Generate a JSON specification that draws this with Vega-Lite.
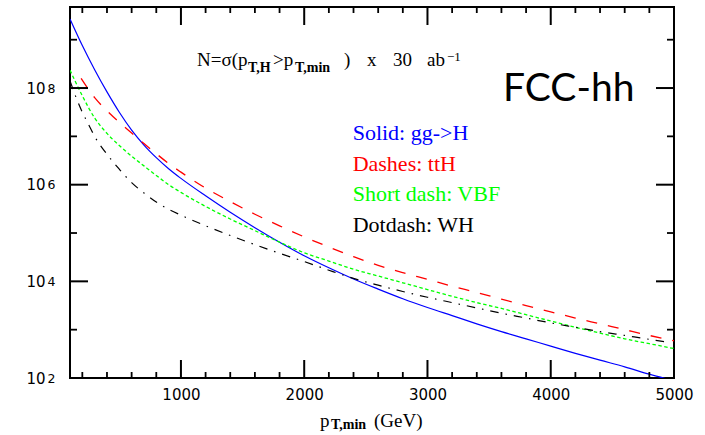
{
  "$schema": "https://vega.github.io/schema/vega-lite/v6.json",
  "width": 604,
  "height": 371,
  "autosize": {"type": "none"},
  "padding": {"left": 70, "top": 7, "right": 31, "bottom": 57},
  "background": "white",
  "config": {
    "view": {"stroke": "black", "strokeWidth": 2},
    "axis": {"grid": false, "domain": false, "ticks": false, "labelColor": "black"}
  },
  "datasets": {
    "gg": [
      {"pt": 100, "n": 2.69e9}, {"pt": 200, "n": 7.59e8}, {"pt": 300, "n": 2.40e8}, {"pt": 400, "n": 8.32e7},
      {"pt": 500, "n": 3.16e7}, {"pt": 600, "n": 1.35e7}, {"pt": 700, "n": 6.61e6}, {"pt": 800, "n": 3.63e6},
      {"pt": 900, "n": 2.14e6}, {"pt": 1000, "n": 1.35e6}, {"pt": 1200, "n": 5.89e5}, {"pt": 1400, "n": 2.69e5},
      {"pt": 1600, "n": 1.29e5}, {"pt": 1800, "n": 6.46e4}, {"pt": 2000, "n": 3.39e4}, {"pt": 2200, "n": 1.91e4},
      {"pt": 2400, "n": 1.12e4}, {"pt": 2600, "n": 6.92e3}, {"pt": 2800, "n": 4.37e3}, {"pt": 3000, "n": 2.88e3},
      {"pt": 3200, "n": 1.95e3}, {"pt": 3400, "n": 1.32e3}, {"pt": 3600, "n": 912}, {"pt": 3800, "n": 646},
      {"pt": 4000, "n": 457}, {"pt": 4200, "n": 324}, {"pt": 4400, "n": 234}, {"pt": 4600, "n": 170},
      {"pt": 4800, "n": 120}, {"pt": 5000, "n": 87}
    ],
    "tth": [
      {"pt": 190, "n": 1.585e8}, {"pt": 300, "n": 6.31e7}, {"pt": 400, "n": 3.39e7}, {"pt": 500, "n": 1.95e7},
      {"pt": 600, "n": 1.175e7}, {"pt": 700, "n": 7.08e6}, {"pt": 800, "n": 4.37e6}, {"pt": 900, "n": 2.75e6},
      {"pt": 1000, "n": 1.82e6}, {"pt": 1200, "n": 8.51e5}, {"pt": 1400, "n": 4.47e5}, {"pt": 1600, "n": 2.45e5},
      {"pt": 1800, "n": 1.41e5}, {"pt": 2000, "n": 8.32e4}, {"pt": 2200, "n": 5.13e4}, {"pt": 2400, "n": 3.24e4},
      {"pt": 2600, "n": 2.14e4}, {"pt": 2800, "n": 1.51e4}, {"pt": 3000, "n": 1.10e4}, {"pt": 3200, "n": 7.94e3},
      {"pt": 3400, "n": 5.89e3}, {"pt": 3600, "n": 4.27e3}, {"pt": 3800, "n": 3.16e3}, {"pt": 4000, "n": 2.34e3},
      {"pt": 4200, "n": 1.74e3}, {"pt": 4400, "n": 1.32e3}, {"pt": 4600, "n": 1.00e3}, {"pt": 4800, "n": 759},
      {"pt": 5000, "n": 589}
    ],
    "vbf": [
      {"pt": 100, "n": 2.34e8}, {"pt": 200, "n": 6.92e7}, {"pt": 300, "n": 2.40e7}, {"pt": 400, "n": 1.15e7},
      {"pt": 500, "n": 6.46e6}, {"pt": 600, "n": 3.89e6}, {"pt": 700, "n": 2.45e6}, {"pt": 800, "n": 1.55e6},
      {"pt": 900, "n": 1.00e6}, {"pt": 1000, "n": 6.92e5}, {"pt": 1200, "n": 3.55e5}, {"pt": 1400, "n": 1.95e5},
      {"pt": 1600, "n": 1.12e5}, {"pt": 1800, "n": 6.46e4}, {"pt": 2000, "n": 3.89e4}, {"pt": 2200, "n": 2.63e4},
      {"pt": 2400, "n": 1.78e4}, {"pt": 2600, "n": 1.29e4}, {"pt": 2800, "n": 9.33e3}, {"pt": 3000, "n": 6.76e3},
      {"pt": 3200, "n": 4.90e3}, {"pt": 3400, "n": 3.63e3}, {"pt": 3600, "n": 2.75e3}, {"pt": 3800, "n": 2.04e3},
      {"pt": 4000, "n": 1.51e3}, {"pt": 4200, "n": 1.12e3}, {"pt": 4400, "n": 851}, {"pt": 4600, "n": 646},
      {"pt": 4800, "n": 513}, {"pt": 5000, "n": 407}
    ],
    "wh": [
      {"pt": 100, "n": 1.41e8}, {"pt": 150, "n": 6.31e7}, {"pt": 200, "n": 3.16e7}, {"pt": 250, "n": 1.78e7},
      {"pt": 300, "n": 1.00e7}, {"pt": 400, "n": 4.27e6}, {"pt": 500, "n": 2.09e6}, {"pt": 600, "n": 1.10e6},
      {"pt": 700, "n": 6.76e5}, {"pt": 800, "n": 4.37e5}, {"pt": 900, "n": 3.09e5}, {"pt": 1000, "n": 2.34e5},
      {"pt": 1200, "n": 1.41e5}, {"pt": 1400, "n": 8.91e4}, {"pt": 1600, "n": 5.75e4}, {"pt": 1800, "n": 3.80e4},
      {"pt": 2000, "n": 2.57e4}, {"pt": 2200, "n": 1.70e4}, {"pt": 2400, "n": 1.15e4}, {"pt": 2600, "n": 8.32e3},
      {"pt": 2800, "n": 6.17e3}, {"pt": 3000, "n": 4.68e3}, {"pt": 3200, "n": 3.63e3}, {"pt": 3400, "n": 2.82e3},
      {"pt": 3600, "n": 2.19e3}, {"pt": 3800, "n": 1.74e3}, {"pt": 4000, "n": 1.38e3}, {"pt": 4200, "n": 1.12e3},
      {"pt": 4400, "n": 912}, {"pt": 4600, "n": 759}, {"pt": 4800, "n": 631}, {"pt": 4950, "n": 550}
    ],
    "xMajor": [{"v": 1000}, {"v": 2000}, {"v": 3000}, {"v": 4000}],
    "xMinor": [{"v": 200}, {"v": 400}, {"v": 600}, {"v": 800}, {"v": 1200}, {"v": 1400}, {"v": 1600}, {"v": 1800},
      {"v": 2200}, {"v": 2400}, {"v": 2600}, {"v": 2800}, {"v": 3200}, {"v": 3400}, {"v": 3600}, {"v": 3800},
      {"v": 4200}, {"v": 4400}, {"v": 4600}, {"v": 4800}],
    "yMajor": [{"v": 10000}, {"v": 1000000}, {"v": 100000000}],
    "yMinor": [{"v": 1000}, {"v": 100000}, {"v": 10000000}, {"v": 1000000000}],
    "mainText": [
      {"x": 1130, "y": 2.80e8, "t": "N=σ(p"},
      {"x": 1747, "y": 2.80e8, "t": ">p"},
      {"x": 2323, "y": 2.80e8, "t": ")"},
      {"x": 2509, "y": 2.80e8, "t": "x"},
      {"x": 2720, "y": 2.80e8, "t": "30"},
      {"x": 2996, "y": 2.80e8, "t": "ab"},
      {"x": 2128, "y": 9.82, "t": "p"},
      {"x": 2566, "y": 9.82, "t": "(GeV)"}
    ],
    "subText": [
      {"x": 1544, "y": 2.18e8, "t": "T,H"},
      {"x": 1925, "y": 2.18e8, "t": "T,min"},
      {"x": 2217, "y": 8.93, "t": "T,min"}
    ],
    "supText": [
      {"x": 3158, "y": 3.59e8, "t": "−1"}
    ],
    "legendText": [
      {"x": 2393, "y": 8.53e6, "t": "Solid: gg->H", "s": "gg"},
      {"x": 2393, "y": 1.95e6, "t": "Dashes: ttH", "s": "tth"},
      {"x": 2393, "y": 4.55e5, "t": "Short dash: VBF", "s": "vbf"},
      {"x": 2393, "y": 1.065e5, "t": "Dotdash: WH", "s": "wh"}
    ],
    "fcc": [
      {"x": 3613, "y": 5.28e7, "t": "FCC-hh"}
    ]
  },
  "resolve": {"axis": {"x": "independent", "y": "independent"}},
  "layer": [
    {
      "data": {"name": "gg"},
      "mark": {"type": "line", "color": "#0000ff", "strokeWidth": 1.2, "clip": true, "interpolate": "monotone"},
      "encoding": {
        "x": {"field": "pt", "type": "quantitative", "scale": {"domain": [100, 5000], "nice": false, "zero": false},
          "axis": {"orient": "bottom", "title": null, "values": [1000, 2000, 3000, 4000, 5000],
            "labelPadding": 9, "labelFont": "DejaVu Sans", "labelFontSize": 15, "labelFlush": false, "labelOverlap": false, "format": "d"}},
        "y": {"field": "n", "type": "quantitative", "scale": {"type": "log", "domain": [100, 4.75e9], "nice": false},
          "axis": {"orient": "left", "title": null, "values": [100, 10000, 1000000, 100000000],
            "labelPadding": 25, "labelExpr": "'10'", "labelFont": "DejaVu Sans", "labelFontSize": 15, "labelDy": 1, "labelOverlap": false}}
      }
    },
    {
      "data": {"name": "tth"},
      "mark": {"type": "line", "color": "#ff0000", "strokeWidth": 1.3, "strokeDash": [11, 11], "clip": true, "interpolate": "monotone"},
      "encoding": {
        "x": {"field": "pt", "type": "quantitative", "axis": null},
        "y": {"field": "n", "type": "quantitative", "axis": null}
      }
    },
    {
      "data": {"name": "vbf"},
      "mark": {"type": "line", "color": "#00ff00", "strokeWidth": 1.3, "strokeDash": [3.5, 2.5], "clip": true, "interpolate": "monotone"},
      "encoding": {
        "x": {"field": "pt", "type": "quantitative", "axis": null},
        "y": {"field": "n", "type": "quantitative", "axis": null}
      }
    },
    {
      "data": {"name": "wh"},
      "mark": {"type": "line", "color": "#000000", "strokeWidth": 1.2, "strokeDash": [8.5, 7, 1.5, 7], "clip": true, "interpolate": "monotone"},
      "encoding": {
        "x": {"field": "pt", "type": "quantitative", "axis": null},
        "y": {"field": "n", "type": "quantitative", "axis": null}
      }
    },
    {
      "data": {"name": "xMajor"},
      "mark": {"type": "point", "shape": "M0,-1L0,1", "size": 324, "filled": false, "color": "black", "strokeWidth": 2, "opacity": 1, "yOffset": -9},
      "encoding": {"x": {"field": "v", "type": "quantitative", "axis": null}, "y": {"datum": 100, "type": "quantitative", "axis": null}}
    },
    {
      "data": {"name": "xMajor"},
      "mark": {"type": "point", "shape": "M0,-1L0,1", "size": 324, "filled": false, "color": "black", "strokeWidth": 2, "opacity": 1, "yOffset": 9},
      "encoding": {"x": {"field": "v", "type": "quantitative", "axis": null}, "y": {"datum": 4.75e9, "type": "quantitative", "axis": null}}
    },
    {
      "data": {"name": "xMinor"},
      "mark": {"type": "point", "shape": "M0,-1L0,1", "size": 36, "filled": false, "color": "black", "strokeWidth": 1.8, "opacity": 1, "yOffset": -3},
      "encoding": {"x": {"field": "v", "type": "quantitative", "axis": null}, "y": {"datum": 100, "type": "quantitative", "axis": null}}
    },
    {
      "data": {"name": "xMinor"},
      "mark": {"type": "point", "shape": "M0,-1L0,1", "size": 36, "filled": false, "color": "black", "strokeWidth": 1.8, "opacity": 1, "yOffset": 3},
      "encoding": {"x": {"field": "v", "type": "quantitative", "axis": null}, "y": {"datum": 4.75e9, "type": "quantitative", "axis": null}}
    },
    {
      "data": {"name": "yMajor"},
      "mark": {"type": "point", "shape": "M-1,0L1,0", "size": 324, "filled": false, "color": "black", "strokeWidth": 2, "opacity": 1, "xOffset": 9},
      "encoding": {"y": {"field": "v", "type": "quantitative", "axis": null}, "x": {"datum": 100, "type": "quantitative", "axis": null}}
    },
    {
      "data": {"name": "yMajor"},
      "mark": {"type": "point", "shape": "M-1,0L1,0", "size": 324, "filled": false, "color": "black", "strokeWidth": 2, "opacity": 1, "xOffset": -9},
      "encoding": {"y": {"field": "v", "type": "quantitative", "axis": null}, "x": {"datum": 5000, "type": "quantitative", "axis": null}}
    },
    {
      "data": {"name": "yMinor"},
      "mark": {"type": "point", "shape": "M-1,0L1,0", "size": 49, "filled": false, "color": "black", "strokeWidth": 1.8, "opacity": 1, "xOffset": 3.5},
      "encoding": {"y": {"field": "v", "type": "quantitative", "axis": null}, "x": {"datum": 100, "type": "quantitative", "axis": null}}
    },
    {
      "data": {"name": "yMinor"},
      "mark": {"type": "point", "shape": "M-1,0L1,0", "size": 49, "filled": false, "color": "black", "strokeWidth": 1.8, "opacity": 1, "xOffset": -3.5},
      "encoding": {"y": {"field": "v", "type": "quantitative", "axis": null}, "x": {"datum": 5000, "type": "quantitative", "axis": null}}
    },
    {
      "data": {"name": "fcc"},
      "mark": {"type": "text", "font": "Lato", "fontSize": 39, "align": "left", "baseline": "alphabetic", "color": "black"},
      "encoding": {
        "x": {"field": "x", "type": "quantitative", "axis": null},
        "y": {"field": "y", "type": "quantitative",
          "axis": {"orient": "left", "title": null, "values": [100, 10000, 1000000, 100000000], "labelPadding": 15,
            "labelExpr": "format(log(datum.value)/LN10, 'd')", "labelFont": "DejaVu Sans", "labelFontSize": 12.5, "labelDy": -4, "labelOverlap": false}},
        "text": {"field": "t"}
      }
    },
    {
      "data": {"name": "mainText"},
      "mark": {"type": "text", "font": "Liberation Serif", "fontSize": 19, "align": "left", "baseline": "alphabetic", "color": "black"},
      "encoding": {
        "x": {"field": "x", "type": "quantitative", "axis": null},
        "y": {"field": "y", "type": "quantitative", "axis": null},
        "text": {"field": "t"}
      }
    },
    {
      "data": {"name": "subText"},
      "mark": {"type": "text", "font": "Liberation Serif", "fontWeight": "bold", "fontSize": 14, "align": "left", "baseline": "alphabetic", "color": "black"},
      "encoding": {
        "x": {"field": "x", "type": "quantitative", "axis": null},
        "y": {"field": "y", "type": "quantitative", "axis": null},
        "text": {"field": "t"}
      }
    },
    {
      "data": {"name": "supText"},
      "mark": {"type": "text", "font": "Liberation Serif", "fontSize": 13, "align": "left", "baseline": "alphabetic", "color": "black"},
      "encoding": {
        "x": {"field": "x", "type": "quantitative", "axis": null},
        "y": {"field": "y", "type": "quantitative", "axis": null},
        "text": {"field": "t"}
      }
    },
    {
      "data": {"name": "legendText"},
      "mark": {"type": "text", "font": "Liberation Serif", "fontSize": 22, "align": "left", "baseline": "alphabetic"},
      "encoding": {
        "x": {"field": "x", "type": "quantitative", "axis": null},
        "y": {"field": "y", "type": "quantitative", "axis": null},
        "text": {"field": "t"},
        "color": {"field": "s", "type": "nominal", "legend": null,
          "scale": {"domain": ["gg", "tth", "vbf", "wh"], "range": ["#0000ff", "#ff0000", "#00ff00", "#000000"]}}
      }
    }
  ]
}
